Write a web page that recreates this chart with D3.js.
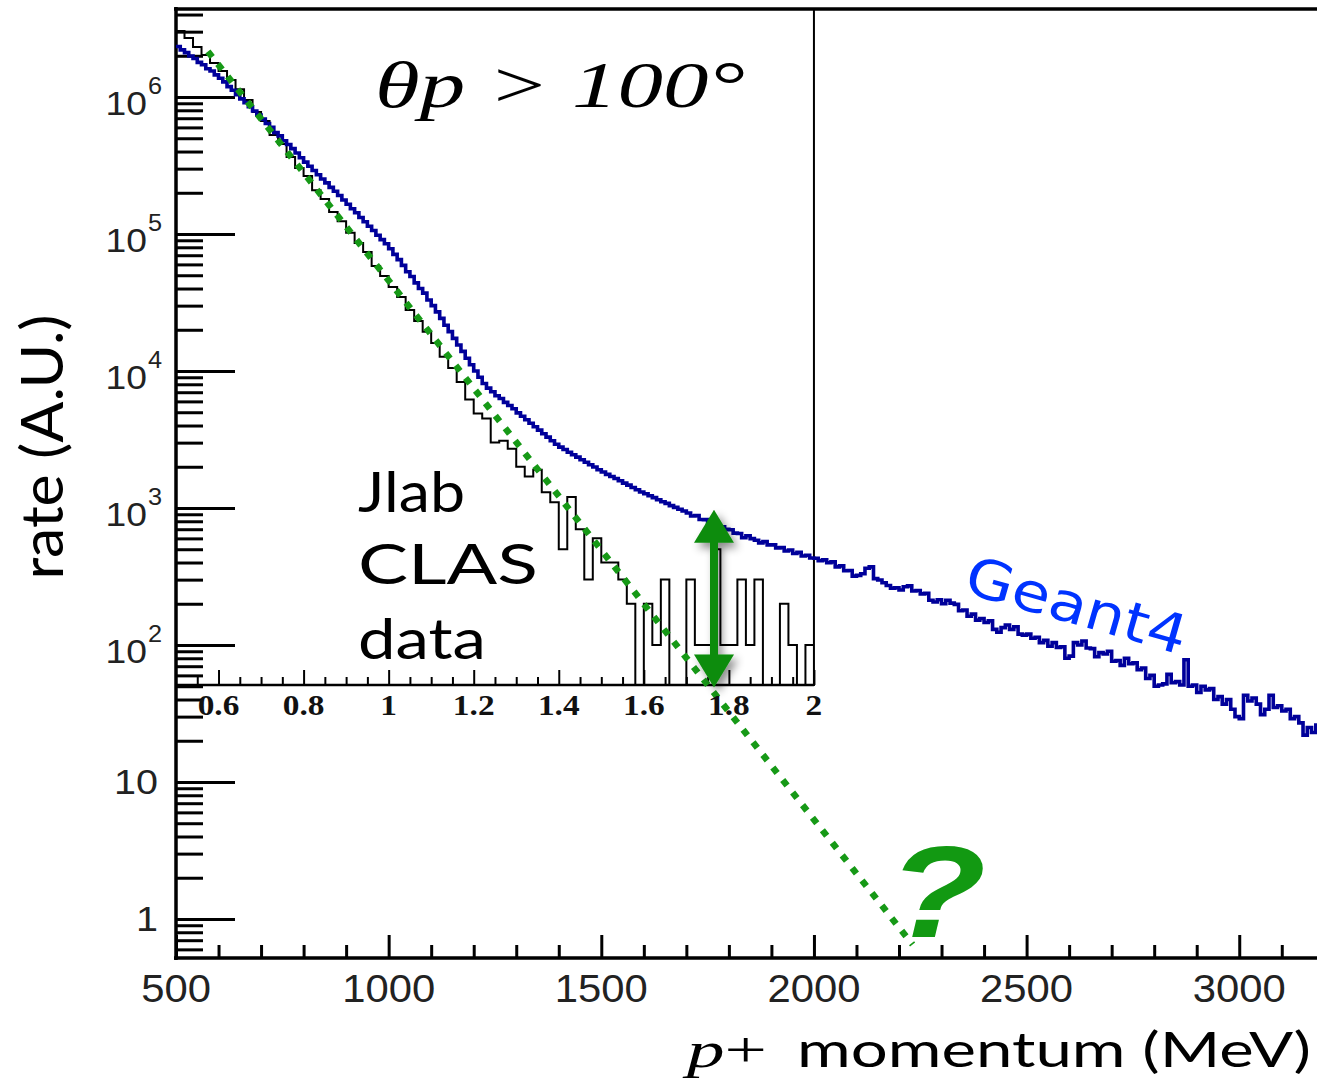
<!DOCTYPE html>
<html>
<head>
<meta charset="utf-8">
<script src="https://cdn.jsdelivr.net/npm/d3@7"></script>
<style>
  html, body { margin: 0; padding: 0; background: #fff; }
  svg { display: block; }
  .tick-label { font-family: "Liberation Sans", Arial, sans-serif; fill: #222; }
  .inset-label { font-family: "Liberation Serif", "Times New Roman", serif; font-weight: bold; fill: #111; }
  .gill { font-family: Lato, "Open Sans", sans-serif; fill: #000; }
  .times-it { font-family: "Liberation Serif", "Times New Roman", serif; font-style: italic; fill: #000; }
</style>
</head>
<body>
<svg id="chart" width="1317" height="1078"></svg>
<script>
////////////////////////////////   DATA   //////////////////////////////////////
// Geant4 simulation, rate (A.U.) in 10 MeV bins starting at 500 MeV
var g4Start = 500, g4BinWidth = 10;
var g4Rate = [
  2.34e6, 2.21e6, 2.11e6, 1.99e6, 1.91e6, 1.79e6, 1.72e6, 1.61e6, 1.55e6, 1.45e6,
  1.37e6, 1.29e6, 1.19e6, 1.12e6, 1.04e6, 9.7e5, 9.1e5, 8.5e5, 7.9e5, 7.4e5,
  6.9e5, 6.4e5, 6.0e5, 5.5e5, 5.2e5, 4.8e5, 4.5e5, 4.2e5, 3.9e5, 3.6e5,
  3.35e5, 3.12e5, 2.91e5, 2.71e5, 2.52e5, 2.36e5, 2.19e5, 2.05e5, 1.91e5, 1.77e5,
  1.65e5, 1.53e5, 1.43e5, 1.32e5, 1.23e5, 1.14e5, 1.06e5, 9.8e4, 9.1e4, 8.5e4,
  7.8e4, 7.1e4, 6.5e4, 5.9e4, 5.3e4, 4.9e4, 4.4e4, 4.0e4, 3.7e4, 3.3e4,
  3.0e4, 2.7e4, 2.42e4, 2.16e4, 1.94e4, 1.73e4, 1.55e4, 1.39e4, 1.24e4, 1.11e4,
  1.0e4, 9.0e3, 8.1e3, 7.5e3, 7.05e3, 6.6e3, 6.3e3, 5.9e3, 5.6e3, 5.3e3,
  4.95e3, 4.68e3, 4.41e3, 4.16e3, 3.92e3, 3.7e3, 3.48e3, 3.29e3, 3.1e3, 2.92e3,
  2.78e3, 2.67e3, 2.55e3, 2.45e3, 2.35e3, 2.25e3, 2.16e3, 2.07e3, 1.99e3, 1.9e3,
  1.83e3, 1.76e3, 1.7e3, 1.64e3, 1.58e3, 1.52e3, 1.47e3, 1.41e3, 1.36e3, 1.31e3,
  1.27e3, 1.23e3, 1.19e3, 1.15e3, 1.11e3, 1.08e3, 1.04e3, 1.01e3, 980, 950,
  920, 875, 880, 825, 822, 776, 778, 736, 728, 698,
  694, 656, 652, 606, 628, 598, 582, 556, 568, 538,
  538, 512, 514, 486, 494, 466, 474, 446, 452, 432,
  430, 412, 418, 398, 404, 372, 378, 348, 350, 318,
  322, 331, 363, 372, 305, 298, 285, 272, 260, 262,
  252, 266, 270, 248, 250, 236, 238, 212, 206, 214,
  200, 212, 202, 198, 178, 180, 162, 168, 152, 156,
  146, 150, 130, 124, 134, 140, 130, 136, 120, 118,
  120, 112, 114, 104, 108, 98, 104, 96, 97, 80,
  83, 104, 100, 107, 95, 94, 82, 88, 86, 90,
  76, 77, 71, 80, 73, 74, 66, 68, 57, 60,
  50, 51, 52, 61, 53, 54, 51, 78, 50, 51,
  45, 50, 47, 48, 40, 42, 37, 40, 34, 30,
  29, 43, 39, 41, 37, 31, 34, 43, 35, 36,
  33, 34, 29, 30, 27, 22, 25, 23, 26, 23
];

// Jlab CLAS data (inset), counts in 20 MeV bins starting at 0.5 GeV
var clasStart = 0.5, clasBinWidth = 0.02;
var clasCounts = [
  30300, 27000, 23200, 20300, 17700, 15500, 13300, 11400, 9510, 7780,
  6680, 5280, 4540, 3650, 3030, 2650, 2090, 1800, 1450, 1240,
  1020, 860, 739, 584, 494, 410, 347, 279, 232, 193,
  160, 127, 105, 83, 62, 49, 45, 30, 31, 27,
  20, 17, 19, 13, 11, 5, 12, 7, 3, 6,
  4, 4, 3, 2, 0, 2, 1, 3, 0, 0,
  3, 1, 1, 5, 1, 1, 3, 1, 3, 0,
  0, 2, 1, 0, 1
];

// exponential fit to the CLAS data (dotted), given by its two end points
var fitEnergy = [575, 2232];   // MeV
var fitRate = [2.15e6, 0.65];

// double arrow between the fit and Geant4
var gapEnergy = 1765, gapRate = [49, 970];

// axis ticks
var xMajorTicks = [500, 1000, 1500, 2000, 2500, 3000];
var yDecades = [0, 1, 2, 3, 4, 5, 6];
var insetMajorTicks = [0.6, 0.8, 1, 1.2, 1.4, 1.6, 1.8, 2];

(function() {
  var svg = d3.select('#chart');

  //// SCALES ////
  var x = d3.scaleLinear().domain([500, 3200]).range([176, 1324.3]),
    y = d3.scaleLog().domain([0.519, 4.39e6]).range([958, 9]),
    // inset: same pixels along x (in GeV), own count scale along y
    xIn = d3.scaleLinear().domain([0.5, 2]).range([176, x(2000)]),
    yIn = d3.scaleLog().domain([0.51, 43900]).range([685, 9]).clamp(true);

  var defs = svg.append('defs');
  defs.append('filter').attr('id', 'shadow')
    .attr('x', '-60%').attr('y', '-20%').attr('width', '220%').attr('height', '150%')
    .append('feDropShadow')
      .attr('dx', 4).attr('dy', 5).attr('stdDeviation', 4)
      .attr('flood-color', '#000').attr('flood-opacity', 0.45);

  ////////////////////////////   AXES   //////////////////////////////////////
  // ticks only (ROOT style, pointing into the frame)
  function tickAxis(axis, tr, w) {
    var g = svg.append('g').attr('transform', tr).call(axis);
    g.select('.domain').remove();
    g.selectAll('text').remove();
    g.selectAll('line').attr('stroke', '#000').attr('stroke-width', w);
    return g;
  }

  var yMinor = [];
  d3.range(-1, 7).forEach(function(k) {
    d3.range(2, 10).forEach(function(m) {
      var v = m * Math.pow(10, k);
      if (v > y.domain()[0] && v < y.domain()[1]) yMinor.push(v);
    });
  });
  var yMajor = yDecades.map(function(k) { return Math.pow(10, k); });

  tickAxis(d3.axisRight(y).tickValues(yMinor).tickSize(27), 'translate(176,0)', 3);
  tickAxis(d3.axisRight(y).tickValues(yMajor).tickSize(59), 'translate(176,0)', 3);

  var xMinor = d3.range(600, 3200, 100).filter(function(v) { return v % 500 !== 0; });
  tickAxis(d3.axisTop(x).tickValues(xMinor).tickSize(13), 'translate(0,958)', 3);
  tickAxis(d3.axisTop(x).tickValues(xMajorTicks).tickSize(23), 'translate(0,958)', 3);

  var insetMinor = d3.range(11, 40).map(function(i) { return i * 0.05; })
    .filter(function(v) {
      return insetMajorTicks.every(function(t) { return Math.abs(t - v) > 1e-6; });
    });
  tickAxis(d3.axisTop(xIn).tickValues(insetMinor).tickSize(8), 'translate(0,685)', 2);
  tickAxis(d3.axisTop(xIn).tickValues(insetMajorTicks).tickSize(15), 'translate(0,685)', 2);

  // frame lines
  var frame = svg.append('g').attr('stroke', '#000').attr('fill', 'none');
  frame.append('line').attr('x1', 176).attr('x2', 176).attr('y1', 7).attr('y2', 960).attr('stroke-width', 3.5);
  frame.append('line').attr('x1', 174).attr('x2', 1317).attr('y1', 958).attr('y2', 958).attr('stroke-width', 3.5);
  frame.append('line').attr('x1', 174).attr('x2', 1317).attr('y1', 9).attr('y2', 9).attr('stroke-width', 3.5);
  frame.append('line').attr('x1', 176).attr('x2', xIn(2)).attr('y1', 685).attr('y2', 685).attr('stroke-width', 2.5);
  frame.append('line').attr('x1', xIn(2)).attr('x2', xIn(2)).attr('y1', 9).attr('y2', 686).attr('stroke-width', 2);

  ////////////////////////////   HISTOGRAMS   ////////////////////////////////
  function stepPoints(vals, start, w, xs, ys) {
    var pts = [];
    vals.forEach(function(v, i) {
      var yy = ys(v > 0 ? v : ys.domain()[0]);
      pts.push([xs(start + i * w), yy], [xs(start + (i + 1) * w), yy]);
    });
    return pts;
  }

  svg.append('path')
    .attr('d', d3.line()(stepPoints(clasCounts, clasStart, clasBinWidth, xIn, yIn)))
    .attr('fill', 'none').attr('stroke', '#000').attr('stroke-width', 2);

  svg.append('path')
    .attr('d', d3.line()(stepPoints(g4Rate, g4Start, g4BinWidth, x, y)))
    .attr('fill', 'none').attr('stroke', '#00009a').attr('stroke-width', 3.6);

  // fit line
  svg.append('line')
    .attr('x1', x(fitEnergy[0])).attr('y1', y(fitRate[0]))
    .attr('x2', x(fitEnergy[1])).attr('y2', y(fitRate[1]))
    .attr('stroke', '#169916').attr('stroke-width', 6.5).attr('stroke-dasharray', '7 9');

  // double arrow
  var ax = x(gapEnergy), aTop = y(gapRate[1]), aBot = y(gapRate[0]),
    hh = 33, hw = 20, sw = 4;
  svg.append('path')
    .attr('d', 'M' + ax + ',' + aTop +
      'L' + (ax + hw) + ',' + (aTop + hh) + 'L' + (ax + sw) + ',' + (aTop + hh) +
      'L' + (ax + sw) + ',' + (aBot - hh) + 'L' + (ax + hw) + ',' + (aBot - hh) +
      'L' + ax + ',' + aBot +
      'L' + (ax - hw) + ',' + (aBot - hh) + 'L' + (ax - sw) + ',' + (aBot - hh) +
      'L' + (ax - sw) + ',' + (aTop + hh) + 'L' + (ax - hw) + ',' + (aTop + hh) + 'Z')
    .attr('fill', '#0d8c0d').attr('filter', 'url(#shadow)');

  ////////////////////////////   LABELS   ////////////////////////////////////
  yDecades.forEach(function(k) {
    var ty = y(Math.pow(10, k));
    if (k < 2) {
      svg.append('text').attr('class', 'tick-label').attr('text-anchor', 'end')
        .attr('transform', 'translate(158,' + (ty + 12) + ') scale(1.13,1)')
        .style('font-size', '35px').text(k === 0 ? '1' : '10');
    } else {
      svg.append('text').attr('class', 'tick-label').attr('text-anchor', 'end')
        .attr('transform', 'translate(147,' + (ty + 18) + ') scale(1.13,1)')
        .style('font-size', '33px').text('10');
      svg.append('text').attr('class', 'tick-label')
        .attr('transform', 'translate(148,' + (ty - 3) + ') scale(1.1,1)')
        .style('font-size', '23px').text(k);
    }
  });

  xMajorTicks.forEach(function(v) {
    svg.append('text').attr('class', 'tick-label').attr('text-anchor', 'middle')
      .attr('transform', 'translate(' + x(v) + ',1002) scale(1.1,1)')
      .style('font-size', '38px').text(v);
  });

  insetMajorTicks.forEach(function(v) {
    svg.append('text').attr('class', 'inset-label').attr('text-anchor', 'middle')
      .attr('transform', 'translate(' + xIn(v) + ',715) scale(1.15,1)')
      .style('font-size', '29px').text(v);
  });

  // axis titles
  svg.append('text').attr('class', 'gill').attr('text-anchor', 'middle')
    .attr('transform', 'translate(63,447) scale(1.2,1) rotate(-90)')
    .attr('textLength', 265).attr('lengthAdjust', 'spacingAndGlyphs')
    .style('font-size', '48px').text('rate (A.U.)');

  var xt = svg.append('text').attr('x', 687).attr('y', 1067)
    .attr('textLength', 80).attr('lengthAdjust', 'spacingAndGlyphs')
    .style('font-family', '"Liberation Serif", serif').style('font-size', '50px');
  xt.append('tspan').style('font-style', 'italic').text('p');
  xt.append('tspan').text('+');
  svg.append('text').attr('class', 'gill').attr('x', 797).attr('y', 1067)
    .attr('textLength', 514).attr('lengthAdjust', 'spacingAndGlyphs')
    .style('font-size', '48px').text('momentum (MeV)');

  // title
  svg.append('text').attr('class', 'times-it').attr('x', 375).attr('y', 107)
    .attr('textLength', 370).attr('lengthAdjust', 'spacingAndGlyphs')
    .style('font-size', '66px').text('θp > 100°');

  // data label
  [['Jlab', 512, 107], ['CLAS', 584, 180], ['data', 659, 128]].forEach(function(d) {
    svg.append('text').attr('class', 'gill').attr('x', 358).attr('y', d[1])
      .attr('textLength', d[2]).attr('lengthAdjust', 'spacingAndGlyphs')
      .style('font-size', '56px').text(d[0]);
  });

  svg.append('text')
    .attr('transform', 'translate(962,592) rotate(16)')
    .attr('textLength', 228).attr('lengthAdjust', 'spacingAndGlyphs')
    .style('font-family', '"DejaVu Sans", Verdana, sans-serif').style('font-size', '54px')
    .style('fill', '#0033ff').text('Geant4');

  svg.append('text').attr('x', 888).attr('y', 937)
    .attr('textLength', 98).attr('lengthAdjust', 'spacingAndGlyphs')
    .style('font-family', '"Liberation Sans", Arial, sans-serif')
    .style('font-weight', 'bold').style('font-style', 'italic').style('font-size', '130px')
    .style('fill', '#129912').text('?');
})();
</script>
</body>
</html>
